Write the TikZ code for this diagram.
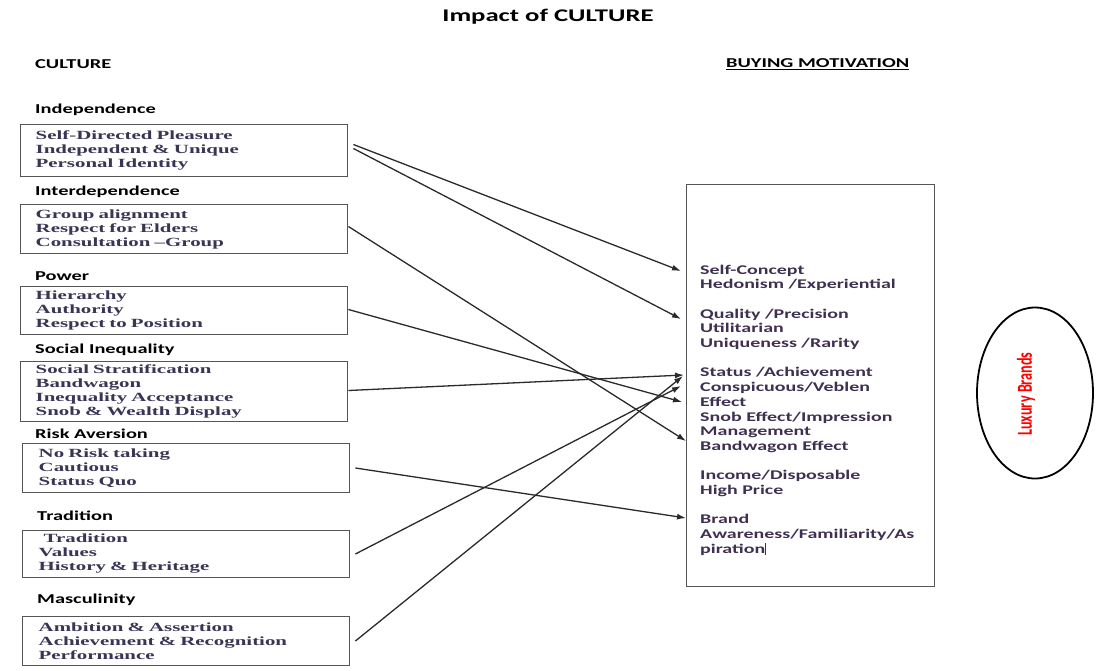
\documentclass[tikz,border=0pt]{standalone}
\usepackage{fontspec}
\usetikzlibrary{arrows.meta,calc,shapes.geometric}

% widened faces
\newfontfamily\headfont[FakeStretch=1.5]{Carlito}
\newfontfamily\itemfont[FakeStretch=1.67]{Liberation Serif}
\newfontfamily\motfont[FakeStretch=1.5]{Carlito}
\newfontfamily\brandfont{Carlito}

\definecolor{boxgray}{HTML}{555555}
\definecolor{linecol}{HTML}{2A2A2A}
\definecolor{itemcol}{HTML}{3A3455}
\definecolor{motcol}{HTML}{3E3050}

\tikzset{
  heading/.style={anchor=west, inner sep=0, font=\headfont\bfseries\fontsize{13.6}{15}\selectfont},
  cbox/.style={draw=boxgray, line width=1.4pt, anchor=west, minimum width=327,
    text width=297, inner xsep=15, inner ysep=0, align=left, text=itemcol,
    font=\itemfont\bfseries\fontsize{12.5}{14}\selectfont},
  lowbox/.style={cbox, text width=295, inner xsep=15},
  conn/.style={draw=linecol, line width=1.3pt, -{Latex[length=9pt,width=6pt]}}
}

\begin{document}
\begin{tikzpicture}[x=1pt,y=-1pt]
\path[use as bounding box] (0,0) rectangle (1102,670);

% titles
\node[font=\headfont\bfseries\fontsize{17.8}{19}\selectfont] (title) at (548,17) {Impact of CULTURE};
\node[heading] (culture) at (35,64) {CULTURE};
\node[heading] (buying) at (726,64) {\underline{BUYING MOTIVATION}};

% culture dimensions
\node[heading] (h1) at (35,110) {Independence};
\node[cbox, minimum height=52] (indep) at (20,150.5)
  {Self-Directed Pleasure\\Independent \& Unique\\Personal Identity};

\node[heading] (h2) at (35,192) {Interdependence};
\node[cbox, minimum height=49] (interdep) at (20,229)
  {Group alignment\\Respect for Elders\\Consultation \textendash Group};

\node[heading] (h3) at (35,276) {Power};
\node[cbox, minimum height=48] (power) at (20,310.5)
  {Hierarchy\\Authority\\Respect to Position};

\node[heading] (h4) at (35,350) {Social Inequality};
\node[cbox, minimum height=60] (social) at (20,391.5)
  {Social Stratification\\Bandwagon\\Inequality Acceptance\\Snob \& Wealth Display};

\node[heading] (h5) at (35,434) {Risk Aversion};
\node[lowbox, minimum height=49] (risk) at (22,468)
  {No Risk taking\\Cautious\\Status Quo};

\node[heading] (h6) at (37,516) {Tradition};
\node[lowbox, minimum height=47] (trad) at (22,554)
  {\hspace*{5pt}Tradition\\Values\\History \& Heritage};

\node[heading] (h7) at (37,600) {Masculinity};
\node[lowbox, minimum height=49] (masc) at (22,641)
  {Ambition \& Assertion\\Achievement \& Recognition\\Performance};

% buying motivation
\node[draw=boxgray, line width=1.4pt, anchor=north west, inner sep=0,
      minimum width=248, minimum height=402] (mot) at (686,184) {};
\node[anchor=north west, inner sep=0, align=left, text=motcol,
      font=\motfont\bfseries\fontsize{13.3}{14.7}\selectfont] (mottext) at (700,264.5)
  {Self-Concept\\Hedonism /Experiential\\[14.7pt]
   Quality /Precision\\Utilitarian\\Uniqueness /Rarity\\[14.7pt]
   Status /Achievement\\Conspicuous/Veblen\\Effect\\Snob Effect/Impression\\Management\\Bandwagon Effect\\[14.7pt]
   Income/Disposable\\High Price\\[14.7pt]
   Brand\\Awareness/Familiarity/As\\piration\rule[-2pt]{0.8pt}{12pt}};

% luxury brands
\node[draw=black, line width=1.8pt, ellipse, inner sep=0,
      minimum width=116, minimum height=171] (lux) at (1035,393) {};
\node[rotate=90, inner sep=0, text=red,
      font=\brandfont\bfseries\fontsize{14.2}{16}\selectfont] (luxtext) at (1026,394)
  {\scalebox{1}[1.5]{Luxury Brands}};

% connectors
\draw[conn] ($(indep.east)+(5,-6)$) -- ($(mot.north west)+(-5,87)$);
\draw[conn] ($(indep.east)+(5,-2)$) -- ($(mot.north west)+(-5,135)$);
\draw[conn] ($(interdep.east)+(0,-2.5)$) -- ($(mot.north west)+(0,257)$);
\draw[conn] ($(power.east)+(0,-1)$) -- ($(mot.north west)+(-4,218)$);
\draw[conn] ($(social.east)+(0,-1)$) -- ($(mot.north west)+(-2,191)$);
\draw[conn] ($(risk.east)+(5,0)$) -- ($(mot.north west)+(0,334)$);
\draw[conn] ($(trad.east)+(5,0)$) -- ($(mot.north west)+(-5,202)$);
\draw[conn] ($(masc.east)+(5,0)$) -- ($(mot.north west)+(-3,192)$);
\end{tikzpicture}
\end{document}
